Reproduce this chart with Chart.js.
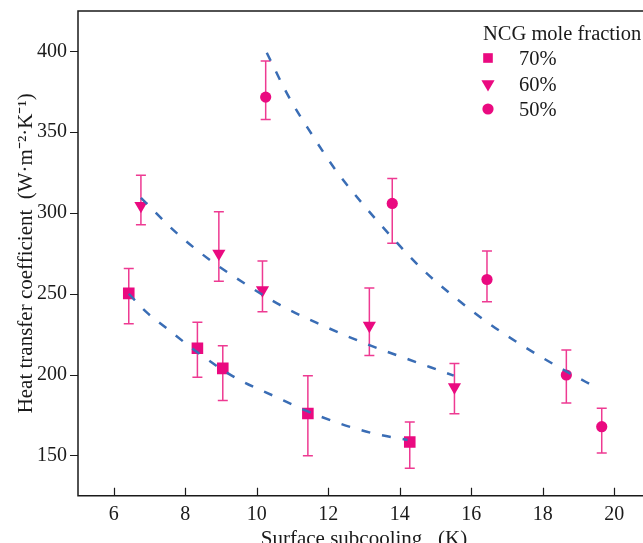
<!DOCTYPE html>
<html>
<head>
<meta charset="utf-8">
<script src="https://cdn.jsdelivr.net/npm/chart.js@4"></script>
<style>
    html, body { margin: 0; padding: 0; background: #fff; overflow: hidden; }
</style>
</head>
<body>
<canvas id="htcChart" width="650" height="543"></canvas>
<script>
// Measured heat transfer coefficient vs surface subcooling, one group per NCG mole fraction
const subcool70 = [6.42, 8.34, 9.05, 11.43, 14.28];
const htc70     = [250.2, 216.3, 203.8, 175.9, 158.2];
const htc70Hi   = [265.7, 232.3, 217.8, 199.3, 170.6];
const htc70Lo   = [231.4, 198.3, 184.0, 149.8, 142.0];

const subcool60 = [6.76, 8.94, 10.16, 13.15, 15.53];
const htc60     = [304.5, 274.9, 252.3, 230.3, 192.2];
const htc60Hi   = [323.4, 300.7, 270.2, 253.5, 206.9];
const htc60Lo   = [292.7, 257.8, 238.8, 211.8, 175.7];

const subcool50 = [10.25, 13.79, 16.44, 18.66, 19.65];
const htc50     = [371.7, 305.9, 258.8, 199.7, 167.7];
const htc50Hi   = [394.0, 321.4, 276.4, 215.2, 179.1];
const htc50Lo   = [357.9, 281.3, 245.0, 182.3, 151.4];

// Fitted trend lines (dashed)
const fit70X = [6.42, 6.90, 7.48, 8.32, 9.35, 10.52, 11.78, 13.18, 14.22];
const fit70Y = [250.0, 238.9, 228.6, 214.1, 198.7, 186.3, 174.0, 164.0, 159.5];
const fit60X = [6.76, 7.74, 8.70, 9.68, 10.66, 11.78, 12.99, 14.86, 15.51];
const fit60Y = [309.4, 288.0, 270.7, 256.1, 242.9, 231.0, 219.6, 204.5, 199.3];
const fit50X = [10.28, 10.89, 11.53, 12.18, 12.92, 13.74, 14.62, 15.56, 16.54, 17.43, 18.45, 19.57];
const fit50Y = [399.2, 372.1, 349.0, 327.4, 306.7, 286.0, 265.4, 247.4, 230.9, 217.9, 204.5, 191.1];

const xTicks = [6, 8, 10, 12, 14, 16, 18, 20];
const yTicks = [150, 200, 250, 300, 350, 400];
const seriesNames = ['70%', '60%', '50%'];
const legendTitle = 'NCG mole fraction';

const FONT = "'Liberation Serif', 'Times New Roman', serif";
const PINK = '#ea0a80';
const ERR_PINK = '#ee3a92';
const BLUE = '#3a6db5';
const INK = '#1a1a1a';

const toPoints = (xs, ys) => xs.map((x, i) => ({ x: x, y: ys[i] }));

function markerSet(label, xs, ys, hi, lo, style, radius, rotation) {
    return {
        type: 'scatter',
        label: label,
        data: toPoints(xs, ys),
        errHi: hi,
        errLo: lo,
        pointStyle: style,
        pointRadius: radius,
        pointHoverRadius: radius,
        pointRotation: rotation,
        pointBackgroundColor: PINK,
        pointBorderWidth: 0,
        order: 1
    };
}

function fitSet(xs, ys) {
    return {
        type: 'line',
        data: toPoints(xs, ys),
        borderColor: BLUE,
        borderWidth: 2.5,
        borderDash: [9, 12],
        pointRadius: 0,
        fill: false,
        cubicInterpolationMode: 'monotone',
        isFit: true,
        order: 0
    };
}

// no automatic label padding: the plot box is placed by hand
function noPadding(s) {
    s.paddingTop = 0;
    s.paddingBottom = 0;
    s.paddingLeft = 0;
    s.paddingRight = 0;
}

// Asymmetric error bars, drawn under the markers
const errorBars = {
    id: 'errorBars',
    beforeDatasetsDraw(chart) {
        const ctx = chart.ctx;
        const xs = chart.scales.x, ys = chart.scales.y;
        ctx.save();
        ctx.strokeStyle = ERR_PINK;
        ctx.lineWidth = 1.5;
        chart.data.datasets.forEach(ds => {
            if (!ds.errHi) return;
            ds.data.forEach((p, i) => {
                const px = xs.getPixelForValue(p.x);
                const top = ys.getPixelForValue(ds.errHi[i]);
                const bot = ys.getPixelForValue(ds.errLo[i]);
                ctx.beginPath();
                ctx.moveTo(px, top); ctx.lineTo(px, bot);
                ctx.moveTo(px - 5, top); ctx.lineTo(px + 5, top);
                ctx.moveTo(px - 5, bot); ctx.lineTo(px + 5, bot);
                ctx.stroke();
            });
        });
        ctx.restore();
    }
};

// Frame: left, bottom and top lines; x ticks point inward, y ticks outward
const frame = {
    id: 'frame',
    afterDraw(chart) {
        const ctx = chart.ctx;
        const a = chart.chartArea;
        const xs = chart.scales.x, ys = chart.scales.y;
        ctx.save();
        ctx.strokeStyle = INK;
        ctx.lineWidth = 1.5;
        ctx.beginPath();
        ctx.moveTo(a.right, a.top); ctx.lineTo(a.left, a.top);
        ctx.lineTo(a.left, a.bottom); ctx.lineTo(a.right, a.bottom);
        ctx.stroke();
        ctx.lineWidth = 1.2;
        ctx.beginPath();
        xTicks.forEach(v => {
            const px = Math.round(xs.getPixelForValue(v)) + 0.5;
            ctx.moveTo(px, a.bottom); ctx.lineTo(px, a.bottom - 8);
        });
        yTicks.forEach(v => {
            const py = Math.round(ys.getPixelForValue(v)) + 0.5;
            ctx.moveTo(a.left, py); ctx.lineTo(a.left - 8, py);
        });
        ctx.stroke();
        ctx.restore();
    }
};

// Legend block in the upper right corner
const markerLegend = {
    id: 'markerLegend',
    afterDraw(chart) {
        const ctx = chart.ctx;
        ctx.save();
        ctx.fillStyle = INK;
        ctx.font = '20.5px ' + FONT;
        ctx.textBaseline = 'alphabetic';
        ctx.textAlign = 'left';
        ctx.fillText(legendTitle, 483, 40);
        const rows = [58, 84, 109];
        const sets = chart.data.datasets.filter(d => !d.isFit);
        sets.forEach((ds, i) => {
            ctx.fillStyle = PINK;
            Chart.helpers.drawPoint(ctx, {
                pointStyle: ds.pointStyle,
                rotation: ds.pointRotation,
                radius: ds.pointStyle === 'rect' ? 6.8 : ds.pointRadius,
                borderWidth: 0
            }, 488, rows[i]);
            ctx.fillStyle = INK;
            ctx.fillText(seriesNames[i], 519, rows[i] + 7);
        });
        ctx.restore();
    }
};

new Chart(document.getElementById('htcChart'), {
    data: {
        datasets: [
            markerSet(seriesNames[0], subcool70, htc70, htc70Hi, htc70Lo, 'rect', 8.2, 0),
            markerSet(seriesNames[1], subcool60, htc60, htc60Hi, htc60Lo, 'triangle', 7.6, 180),
            markerSet(seriesNames[2], subcool50, htc50, htc50Hi, htc50Lo, 'circle', 5.6, 0),
            fitSet(fit70X, fit70Y),
            fitSet(fit60X, fit60Y),
            fitSet(fit50X, fit50Y)
        ]
    },
    options: {
        responsive: false,
        devicePixelRatio: 1,
        animation: false,
        events: [],
        layout: { autoPadding: false, padding: { top: 11, right: 0, left: 0, bottom: 0 } },
        plugins: {
            legend: { display: false },
            tooltip: { enabled: false }
        },
        scales: {
            x: {
                type: 'linear',
                min: 5,
                max: 21,
                grid: { display: false, drawTicks: false },
                border: { display: false },
                afterBuildTicks: s => { s.ticks = xTicks.map(v => ({ value: v })); },
                afterFit: s => { s.height = 47.3; noPadding(s); },
                ticks: {
                    color: INK,
                    font: { family: FONT, size: 20 },
                    padding: 7,
                    maxRotation: 0
                },
                title: {
                    display: true,
                    text: 'Surface subcooling   (K)',
                    color: INK,
                    font: { family: FONT, size: 21 },
                    padding: { top: 0, bottom: -9 }
                }
            },
            y: {
                type: 'linear',
                min: 125,
                max: 425,
                grid: { display: false, drawTicks: false },
                border: { display: false },
                afterBuildTicks: s => { s.ticks = yTicks.map(v => ({ value: v })); },
                afterFit: s => { s.width = 78; noPadding(s); },
                ticks: {
                    color: INK,
                    font: { family: FONT, size: 20 },
                    padding: 11
                },
                title: {
                    display: true,
                    text: 'Heat transfer coefficient  (W·m⁻²·K⁻¹)',
                    color: INK,
                    font: { family: FONT, size: 21 },
                    padding: { top: 14, bottom: 0 }
                }
            }
        }
    },
    plugins: [errorBars, frame, markerLegend]
});
</script>
</body>
</html>
